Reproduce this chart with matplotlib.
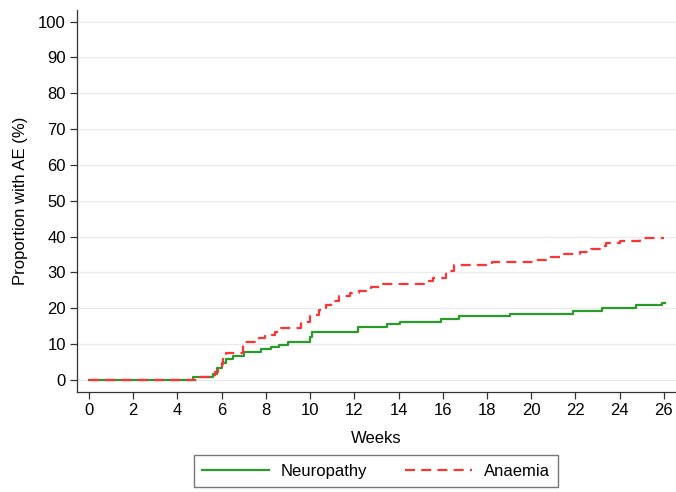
import matplotlib.pyplot as plt

plt.rcParams['font.family'] = ['Liberation Sans', 'DejaVu Sans']

# cumulative incidence (weeks, %)
neuro_weeks = [0, 4.7, 5.6, 5.8, 6.0, 6.2, 6.5, 7.0, 7.8, 8.25,
               8.6, 9.0, 10.0, 10.1, 12.15, 13.5, 14.05, 15.9, 16.75, 19.05,
               21.9, 23.2, 24.75, 25.93, 26.05]
neuro_pct = [0, 0.8, 1.7, 3.3, 4.8, 5.9, 6.7, 7.7, 8.5, 9.2,
             9.8, 10.5, 11.9, 13.3, 14.7, 15.5, 16.3, 17.0, 17.8, 18.5,
             19.3, 20.0, 20.8, 21.6, 21.6]

anaemia_weeks = [0, 5.0, 5.7, 5.85, 6.0, 6.06, 6.2, 6.97, 7.7, 7.95,
                 8.4, 8.7, 9.6, 10.0, 10.4, 10.7, 10.96, 11.33, 11.8, 12.2,
                 12.76, 13.3, 15.17, 15.55, 16.15, 16.5, 18.25, 20.2, 20.8, 21.3,
                 22.2, 22.7, 23.1, 23.4, 24.0, 24.9, 26.0]
anaemia_pct = [0, 0.8, 2.2, 3.5, 4.5, 6.5, 7.4, 10.5, 11.6, 12.6,
               13.5, 14.4, 16.3, 18.2, 19.6, 20.9, 21.9, 23.3, 24.2, 24.9,
               25.9, 26.8, 27.6, 28.4, 30.3, 32.1, 32.8, 33.6, 34.4, 35.1,
               35.6, 36.5, 37.4, 38.1, 38.9, 39.6, 39.6]

x_ticks = list(range(0, 27, 2))
y_ticks = list(range(0, 101, 10))

fig = plt.figure(figsize=(6.76, 4.92), dpi=100)
ax = fig.add_axes([0.114, 0.203, 0.886, 0.777])

ax.step(neuro_weeks, neuro_pct, where='post', color='#2a9a2a', lw=1.6,
        label='Neuropathy')
ax.step(anaemia_weeks, anaemia_pct, where='post', color='#ff3333', lw=1.6,
        dashes=(4.5, 2.8), label='Anaemia')

ax.set_xlim(-0.54, 26.55)
ax.set_ylim(-3.4, 103.3)
ax.set_xticks(x_ticks)
ax.set_yticks(y_ticks)
ax.grid(axis='y', color='#ebebeb', lw=1)
ax.set_axisbelow(True)

for s in ['top', 'right']:
    ax.spines[s].set_visible(False)
for s in ['left', 'bottom']:
    ax.spines[s].set_color('#333333')
    ax.spines[s].set_linewidth(0.9)
ax.tick_params(direction='out', length=5, width=0.9, color='#333333',
               labelsize=12, pad=3)

ax.set_xlabel('Weeks', fontsize=12, labelpad=9)
ax.set_ylabel('Proportion with AE (%)', fontsize=12, labelpad=7)

fig.legend(loc='lower center', bbox_to_anchor=(0.556, 0.01), ncol=2,
           fontsize=12, frameon=True, fancybox=False, edgecolor='#555555',
           handlelength=4.0, columnspacing=2.3, handletextpad=0.7,
           borderpad=0.5, borderaxespad=0)

fig.savefig('out.png', dpi=100)
